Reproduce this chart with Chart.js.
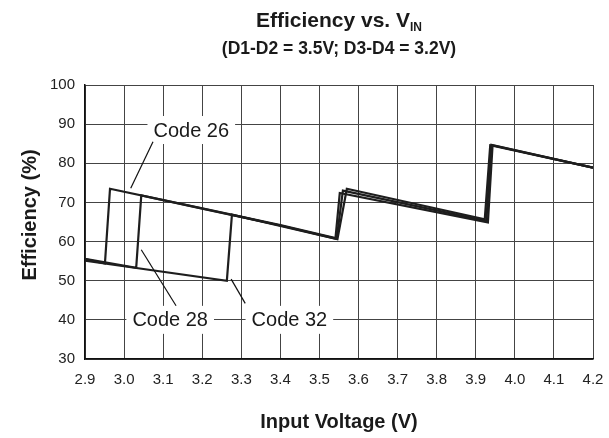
<!DOCTYPE html>
<html>
<head>
<meta charset="utf-8">
<script src="https://cdn.jsdelivr.net/npm/chart.js@4.4.1/dist/chart.umd.min.js"></script>
<style>
  html, body { margin: 0; padding: 0; background: #ffffff; }
  #wrap { width: 609px; height: 438px; }
</style>
</head>
<body>
<div id="wrap"><canvas id="c" width="609" height="438"></canvas></div>
<script>
// ---- Data ----
const titleMain = "Efficiency vs. V";
const titleSub = "IN";
const subtitle = "(D1-D2 = 3.5V; D3-D4 = 3.2V)";
const xTitle = "Input Voltage (V)";
const yTitle = "Efficiency (%)";

const xTicks = [2.9, 3.0, 3.1, 3.2, 3.3, 3.4, 3.5, 3.6, 3.7, 3.8, 3.9, 4.0, 4.1, 4.2];
const yTicks = [30, 40, 50, 60, 70, 80, 90, 100];

const seriesNames = ["Code 26", "Code 28", "Code 32"];

const volts26 = [2.90, 2.951, 2.964, 3.20, 3.40, 3.541, 3.552, 3.931, 3.943, 4.20];
const eff26   = [55.5, 54.4, 73.5, 68.5, 64.2, 60.9, 72.4, 64.9, 84.6, 78.9];

const volts28 = [2.90, 3.031, 3.044, 3.20, 3.40, 3.544, 3.560, 3.927, 3.940, 4.20];
const eff28   = [55.6, 53.3, 71.8, 68.4, 64.1, 60.7, 73.0, 65.3, 84.7, 78.9];

const volts32 = [2.90, 3.263, 3.276, 3.40, 3.546, 3.570, 3.923, 3.937, 4.20];
const eff32   = [55.1, 50.0, 66.9, 64.0, 60.6, 73.5, 65.7, 84.6, 78.9];

// Callout labels: [label, label x, label y, leader from x, from y, to x, to y] in data units
const callouts = [
  ["Code 26", 3.172, 88.5, 3.074, 85.5, 3.017, 73.6],
  ["Code 28", 3.118, 40.0, 3.133, 43.6, 3.044, 57.9],
  ["Code 32", 3.423, 40.0, 3.310, 44.2, 3.274, 50.4]
];

// ---- Build datasets ----
function pts(xs, ys) { return xs.map((x, i) => ({ x: x, y: ys[i] })); }
const seriesData = [pts(volts26, eff26), pts(volts28, eff28), pts(volts32, eff32)];

const datasets = seriesData.map((d, i) => ({
  label: seriesNames[i],
  data: d,
  borderColor: '#1e1e1e',
  backgroundColor: '#1e1e1e',
  borderWidth: 2.2,
  pointRadius: 0,
  tension: 0,
  fill: false
}));

const FONT = "Arial, 'Liberation Sans', Helvetica, sans-serif";

const annotPlugin = {
  id: 'annot',
  afterDatasetsDraw(chart) {
    const ctx = chart.ctx;
    const xs = chart.scales.x, ys = chart.scales.y;
    ctx.save();
    ctx.font = "20px " + FONT;
    ctx.textAlign = 'center';
    ctx.textBaseline = 'middle';
    callouts.forEach(c => {
      const lx = xs.getPixelForValue(c[1]);
      const ly = ys.getPixelForValue(c[2]);
      const w = ctx.measureText(c[0]).width;
      ctx.fillStyle = '#ffffff';
      ctx.fillRect(lx - w / 2 - 6, ly - 14, w + 12, 28);
      ctx.strokeStyle = '#111';
      ctx.lineWidth = 1.2;
      ctx.beginPath();
      ctx.moveTo(xs.getPixelForValue(c[3]), ys.getPixelForValue(c[4]));
      ctx.lineTo(xs.getPixelForValue(c[5]), ys.getPixelForValue(c[6]));
      ctx.stroke();
      ctx.fillStyle = '#1a1a1a';
      ctx.fillText(c[0], lx, ly + 1);
    });
    ctx.restore();
  },
  afterDraw(chart) {
    const ctx = chart.ctx;
    const area = chart.chartArea;
    const cx = (area.left + area.right) / 2;
    ctx.save();
    ctx.fillStyle = '#1a1a1a';
    ctx.textBaseline = 'alphabetic';
    ctx.textAlign = 'left';
    ctx.font = "bold 21px " + FONT;
    const w1 = ctx.measureText(titleMain).width;
    ctx.font = "bold 12px " + FONT;
    const w2 = ctx.measureText(titleSub).width;
    const start = cx - (w1 + w2) / 2;
    ctx.font = "bold 21px " + FONT;
    ctx.fillText(titleMain, start, 27);
    ctx.font = "bold 12px " + FONT;
    ctx.fillText(titleSub, start + w1, 31);
    ctx.font = "bold 17.5px " + FONT;
    ctx.textAlign = 'center';
    ctx.fillText(subtitle, cx, 54);
    // y-axis title
    ctx.translate(30, 215);
    ctx.rotate(-Math.PI / 2);
    ctx.font = "bold 20px " + FONT;
    ctx.textBaseline = 'middle';
    ctx.fillText(yTitle, 0, 0);
    ctx.restore();
  }
};

new Chart(document.getElementById('c'), {
  type: 'line',
  data: { datasets: datasets },
  plugins: [annotPlugin],
  options: {
    responsive: false,
    animation: false,
    devicePixelRatio: 1,
    layout: { padding: { top: 85, right: 16, bottom: 0, left: 5 } },
    plugins: { legend: { display: false }, tooltip: { enabled: false }, title: { display: false } },
    scales: {
      x: {
        type: 'linear',
        min: 2.9, max: 4.2,
        afterBuildTicks(s) { s.ticks = xTicks.map(v => ({ value: v })); },
        afterFit(s) { s.height = 79; s.paddingLeft = 0; s.paddingRight = 0; },
        grid: { color: '#444444', lineWidth: 1, drawTicks: false },
        border: { color: '#111', width: 1.5 },
        ticks: {
          color: '#222', padding: 12, maxRotation: 0, autoSkip: false,
          font: { family: FONT, size: 15 },
          callback: v => Number(v).toFixed(1)
        },
        title: {
          display: true, text: xTitle, color: '#1a1a1a',
          font: { family: FONT, size: 20, weight: 'bold' },
          padding: { top: 0, bottom: 4 }
        }
      },
      y: {
        type: 'linear',
        min: 30, max: 100,
        afterBuildTicks(s) { s.ticks = yTicks.map(v => ({ value: v })); },
        afterFit(s) { s.width = 80; },
        grid: { color: '#444444', lineWidth: 1, drawTicks: false },
        border: { color: '#111', width: 1.5 },
        ticks: {
          color: '#222', padding: 10,
          font: { family: FONT, size: 15 }
        },
        title: { display: false, text: yTitle }
      }
    }
  }
});
</script>
</body>
</html>
